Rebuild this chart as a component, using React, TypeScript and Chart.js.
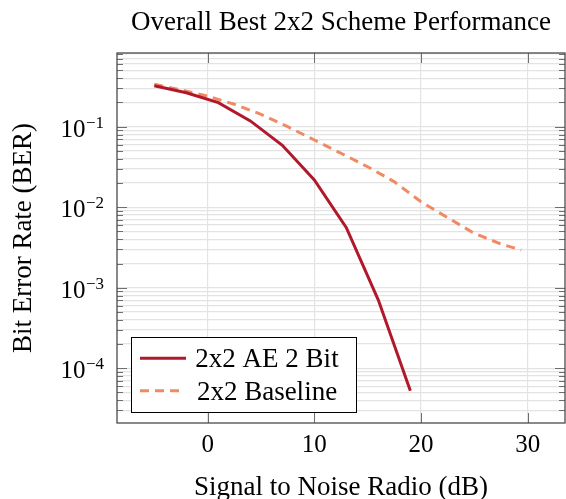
import React, { useEffect, useRef } from "react";
import { Chart, registerables } from "chart.js";

Chart.register(...registerables);

const aeSnr = [-5, -2, 1, 4, 7, 10, 13, 16, 19];
const aeBer = [0.323, 0.264, 0.199, 0.118, 0.0587, 0.0218, 0.00556, 0.000703, 0.0000525];

const baseSnr = [-5, -2.5, 0, 2.5, 5, 7.5, 10, 12.5, 15, 17.5, 20, 22.5, 25, 27.5, 29.4];
const baseBer = [0.336, 0.286, 0.24, 0.19, 0.1425, 0.1, 0.0684, 0.0468, 0.0318, 0.0207, 0.0117, 0.00741, 0.00474, 0.00349, 0.00294];

const xTicks = [0, 10, 20, 30];
const yExponents = [-1, -2, -3, -4];

const titleText = "Overall Best 2x2 Scheme Performance";
const xTitle = "Signal to Noise Radio (dB)";
const yTitle = "Bit Error Rate (BER)";
const seriesNames = ["2x2 AE 2 Bit", "2x2 Baseline"];
const seriesColors = ["#b2182b", "#ef8a62"];

const SERIF = "'Liberation Serif', 'DejaVu Serif', serif";

function buildLogTicks(min: number, max: number) {
  const out: { value: number; major: boolean }[] = [];
  for (let e = -6; e <= 1; e++) {
    for (let m = 1; m <= 9; m++) {
      const v = m * Math.pow(10, e);
      if (v >= min * 0.9999 && v <= max * 1.0001) out.push({ value: v, major: m === 1 });
    }
  }
  return out;
}

const decorPlugin = {
  id: "decor",
  afterDraw(chart: any) {
    const ctx = chart.ctx as CanvasRenderingContext2D;
    const area = chart.chartArea;
    const xs = chart.scales.x;
    const ys = chart.scales.y;
    ctx.save();

    // inward ticks
    ctx.strokeStyle = "#6e6e6e";
    ctx.lineWidth = 1;
    for (const t of xTicks) {
      const px = Math.round(xs.getPixelForValue(t)) + 0.5;
      ctx.beginPath();
      ctx.moveTo(px, area.bottom);
      ctx.lineTo(px, area.bottom - 10);
      ctx.moveTo(px, area.top);
      ctx.lineTo(px, area.top + 10);
      ctx.stroke();
    }
    for (const t of ys.ticks) {
      const py = Math.round(ys.getPixelForValue(t.value)) + 0.5;
      const len = t.major ? 10 : 6;
      ctx.beginPath();
      ctx.moveTo(area.left, py);
      ctx.lineTo(area.left + len, py);
      ctx.moveTo(area.right, py);
      ctx.lineTo(area.right - len, py);
      ctx.stroke();
    }

    // box
    ctx.strokeStyle = "#4a4a4a";
    ctx.lineWidth = 1.3;
    ctx.strokeRect(area.left, area.top, area.right - area.left, area.bottom - area.top);

    ctx.fillStyle = "#000";
    // x tick labels
    ctx.font = `25px ${SERIF}`;
    ctx.textAlign = "center";
    ctx.textBaseline = "alphabetic";
    for (const t of xTicks) {
      ctx.fillText(String(t), xs.getPixelForValue(t), 451.5);
    }
    // y tick labels
    for (const e of yExponents) {
      const py = ys.getPixelForValue(Math.pow(10, e));
      ctx.font = `17px ${SERIF}`;
      const sup = "\u2212" + String(-e);
      const supW = ctx.measureText(sup).width;
      const supX = 104 - supW;
      ctx.textAlign = "left";
      ctx.fillText(sup, supX, py + 1);
      ctx.font = `25px ${SERIF}`;
      ctx.textAlign = "right";
      ctx.fillText("10", supX - 0.5, py + 10);
    }

    // titles
    const cx = (area.left + area.right) / 2;
    ctx.font = `27px ${SERIF}`;
    ctx.textAlign = "center";
    ctx.fillText(titleText, cx, 30);
    ctx.fillText(xTitle, cx, 495);
    ctx.save();
    ctx.translate(31, (area.top + area.bottom) / 2);
    ctx.rotate(-Math.PI / 2);
    ctx.fillText(yTitle, 0, 0);
    ctx.restore();

    // legend
    const lx = 131, ly = 337, lw = 225, lh = 75;
    ctx.fillStyle = "#fff";
    ctx.fillRect(lx, ly, lw, lh);
    ctx.strokeStyle = "#000";
    ctx.lineWidth = 1;
    ctx.strokeRect(lx + 0.5, ly + 0.5, lw, lh);
    const rows = [358.3, 390.7];
    for (let i = 0; i < 2; i++) {
      ctx.strokeStyle = seriesColors[i];
      ctx.lineWidth = 3;
      ctx.setLineDash(i === 1 ? [9, 6] : []);
      ctx.beginPath();
      ctx.moveTo(140, rows[i]);
      ctx.lineTo(i === 1 ? 181 : 186, rows[i]);
      ctx.stroke();
      ctx.setLineDash([]);
      ctx.fillStyle = "#000";
      ctx.font = `27px ${SERIF}`;
      ctx.textAlign = "center";
      ctx.fillText(seriesNames[i], 267, rows[i] + 9);
    }
    ctx.restore();
  },
};

export default function App() {
  const ref = useRef<HTMLCanvasElement | null>(null);
  useEffect(() => {
    if (!ref.current) return;
    const yMin = Math.pow(10, -4.68);
    const yMax = Math.pow(10, -0.0845);
    const chart = new Chart(ref.current, {
      type: "line",
      data: {
        datasets: [
          {
            label: seriesNames[0],
            data: aeSnr.map((x, i) => ({ x, y: aeBer[i] })),
            borderColor: seriesColors[0],
            borderWidth: 3,
            pointRadius: 0,
            tension: 0,
            fill: false,
          },
          {
            label: seriesNames[1],
            data: baseSnr.map((x, i) => ({ x, y: baseBer[i] })),
            borderColor: seriesColors[1],
            borderWidth: 3,
            borderDash: [9, 6],
            pointRadius: 0,
            tension: 0,
            fill: false,
          },
        ],
      },
      options: {
        animation: false,
        responsive: false,
        devicePixelRatio: 1,
        layout: { padding: { top: 53, right: 1, left: 0, bottom: 0 } },
        plugins: { legend: { display: false }, title: { display: false }, tooltip: { enabled: false } },
        scales: {
          x: {
            type: "linear",
            min: -8.5,
            max: 33.5,
            afterBuildTicks: (s: any) => {
              s.ticks = xTicks.map((v) => ({ value: v }));
            },
            afterFit: (s: any) => {
              s.height = 76;
            },
            ticks: { display: false },
            grid: { color: "#e3e3e3", lineWidth: 1.2, drawTicks: false },
            border: { display: false },
          },
          y: {
            type: "logarithmic",
            min: yMin,
            max: yMax,
            afterBuildTicks: (s: any) => {
              s.ticks = buildLogTicks(yMin, yMax);
            },
            afterFit: (s: any) => {
              s.width = 117;
            },
            ticks: { display: false },
            grid: { color: "#e3e3e3", lineWidth: 1.2, drawTicks: false },
            border: { display: false },
          },
        },
      } as any,
      plugins: [decorPlugin],
    });
    return () => chart.destroy();
  }, []);
  return (
    <div style={{ position: "absolute", left: 0, top: 0, width: 566, height: 499, background: "#fff" }}>
      <canvas ref={ref} width={566} height={499} style={{ display: "block" }} />
    </div>
  );
}
